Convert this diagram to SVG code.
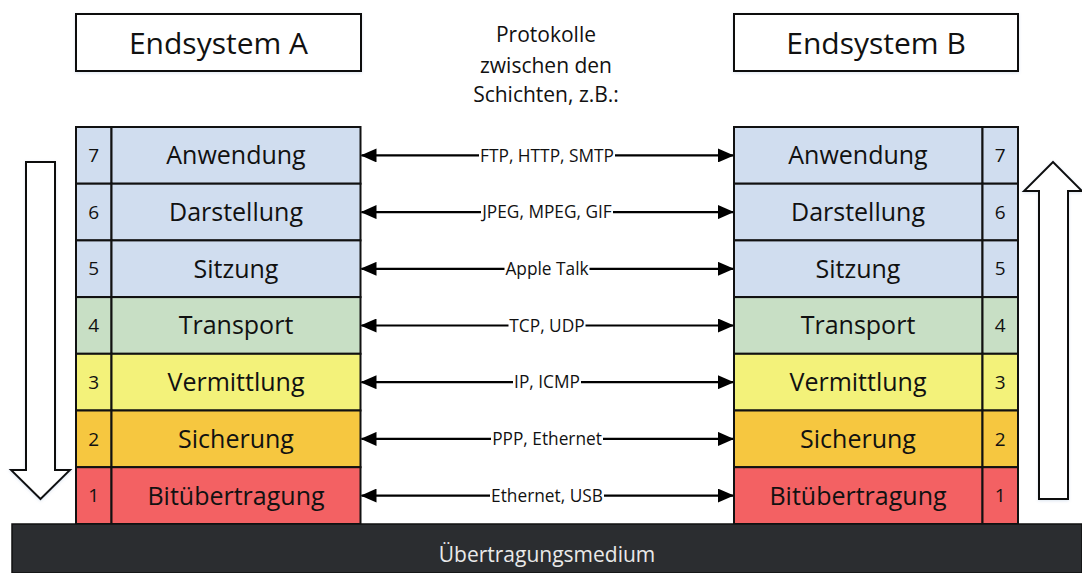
<svg xmlns="http://www.w3.org/2000/svg" width="1082" height="573" viewBox="0 0 1082 573">
  <defs>
    <marker id="ah" viewBox="0 0 16 14" refX="15" refY="7" markerWidth="16" markerHeight="14" markerUnits="userSpaceOnUse" orient="auto-start-reverse">
      <path d="M0,0 L16,7 L0,14 Z" fill="#000"/>
    </marker>
    <filter id="soft" x="-20%" y="-20%" width="140%" height="140%">
      <feDropShadow dx="0" dy="1" stdDeviation="1.5" flood-color="#9fb6d6" flood-opacity="0.35"/>
    </filter>
  </defs>
  <style>
    text { font-family: "Open Sans", "Liberation Sans", sans-serif; fill: #111; }
    .cell { stroke: #111; stroke-width: 2; }
    .blue { fill: #d0ddef; }
    .green { fill: #c8dfc5; }
    .yellow { fill: #f3f27a; }
    .orange { fill: #f6c740; }
    .red { fill: #f36163; }
    .name { font-size: 25px; text-anchor: middle; }
    .num { font-size: 19px; text-anchor: middle; }
    .head { font-size: 30px; text-anchor: middle; }
    .note { font-size: 21px; text-anchor: middle; }
    .proto { font-size: 17.3px; text-anchor: middle; }
    .gap { fill: #fff; }
    .conn { stroke: #000; stroke-width: 2.2; fill: none; marker-start: url(#ah); marker-end: url(#ah); }
    .bigarrow { fill: #fff; stroke: #111; stroke-width: 2; filter: url(#soft); }
  </style>

  <rect width="1082" height="573" fill="#fff"/>

  <!-- header boxes -->
  <g id="endsystem-a">
    <rect x="76" y="14" width="285" height="57" fill="#fff" stroke="#111" stroke-width="2" filter="url(#soft)"/>
    <text class="head" x="218.5" y="54">Endsystem A</text>
  </g>
  <g id="endsystem-b">
    <rect x="734" y="14" width="284" height="57" fill="#fff" stroke="#111" stroke-width="2" filter="url(#soft)"/>
    <text class="head" x="876" y="54">Endsystem B</text>
  </g>
  <g id="caption">
    <text class="note" x="546" y="42">Protokolle</text>
    <text class="note" x="546" y="72.5">zwischen den</text>
    <text class="note" x="546" y="101.5">Schichten, z.B.:</text>
  </g>

  <!-- direction arrows -->
  <g id="arrow-down">
    <path class="bigarrow" d="M26,162 L55,162 L55,470 L70,470 L40.5,499 L11,470 L26,470 Z"/>
  </g>
  <g id="arrow-up">
    <path class="bigarrow" d="M1039,499 L1068,499 L1068,191 L1082,191 L1053,162 L1024,191 L1039,191 Z"/>
  </g>

  <!-- layer stack of system A -->
  <g id="stack-a">
    <g id="a7"><rect class="cell blue" x="76" y="127" width="35.5" height="56.7"/><rect class="cell blue" x="111.5" y="127" width="249" height="56.7"/><text class="num" x="93.7" y="162">7</text><text class="name" x="236" y="164.3">Anwendung</text></g>
    <g id="a6"><rect class="cell blue" x="76" y="183.7" width="35.5" height="56.7"/><rect class="cell blue" x="111.5" y="183.7" width="249" height="56.7"/><text class="num" x="93.7" y="218.7">6</text><text class="name" x="236" y="221">Darstellung</text></g>
    <g id="a5"><rect class="cell blue" x="76" y="240.4" width="35.5" height="56.7"/><rect class="cell blue" x="111.5" y="240.4" width="249" height="56.7"/><text class="num" x="93.7" y="275.4">5</text><text class="name" x="236" y="277.7">Sitzung</text></g>
    <g id="a4"><rect class="cell green" x="76" y="297.1" width="35.5" height="56.7"/><rect class="cell green" x="111.5" y="297.1" width="249" height="56.7"/><text class="num" x="93.7" y="332.1">4</text><text class="name" x="236" y="334.4">Transport</text></g>
    <g id="a3"><rect class="cell yellow" x="76" y="353.8" width="35.5" height="56.7"/><rect class="cell yellow" x="111.5" y="353.8" width="249" height="56.7"/><text class="num" x="93.7" y="388.8">3</text><text class="name" x="236" y="391.1">Vermittlung</text></g>
    <g id="a2"><rect class="cell orange" x="76" y="410.5" width="35.5" height="56.7"/><rect class="cell orange" x="111.5" y="410.5" width="249" height="56.7"/><text class="num" x="93.7" y="445.5">2</text><text class="name" x="236" y="447.8">Sicherung</text></g>
    <g id="a1"><rect class="cell red" x="76" y="467.2" width="35.5" height="56.8"/><rect class="cell red" x="111.5" y="467.2" width="249" height="56.8"/><text class="num" x="93.7" y="502.2">1</text><text class="name" x="236" y="504.5">Bitübertragung</text></g>
  </g>

  <!-- layer stack of system B -->
  <g id="stack-b">
    <g id="b7"><rect class="cell blue" x="734" y="127" width="248.5" height="56.7"/><rect class="cell blue" x="982.5" y="127" width="35.5" height="56.7"/><text class="name" x="858" y="164.3">Anwendung</text><text class="num" x="1000.3" y="162">7</text></g>
    <g id="b6"><rect class="cell blue" x="734" y="183.7" width="248.5" height="56.7"/><rect class="cell blue" x="982.5" y="183.7" width="35.5" height="56.7"/><text class="name" x="858" y="221">Darstellung</text><text class="num" x="1000.3" y="218.7">6</text></g>
    <g id="b5"><rect class="cell blue" x="734" y="240.4" width="248.5" height="56.7"/><rect class="cell blue" x="982.5" y="240.4" width="35.5" height="56.7"/><text class="name" x="858" y="277.7">Sitzung</text><text class="num" x="1000.3" y="275.4">5</text></g>
    <g id="b4"><rect class="cell green" x="734" y="297.1" width="248.5" height="56.7"/><rect class="cell green" x="982.5" y="297.1" width="35.5" height="56.7"/><text class="name" x="858" y="334.4">Transport</text><text class="num" x="1000.3" y="332.1">4</text></g>
    <g id="b3"><rect class="cell yellow" x="734" y="353.8" width="248.5" height="56.7"/><rect class="cell yellow" x="982.5" y="353.8" width="35.5" height="56.7"/><text class="name" x="858" y="391.1">Vermittlung</text><text class="num" x="1000.3" y="388.8">3</text></g>
    <g id="b2"><rect class="cell orange" x="734" y="410.5" width="248.5" height="56.7"/><rect class="cell orange" x="982.5" y="410.5" width="35.5" height="56.7"/><text class="name" x="858" y="447.8">Sicherung</text><text class="num" x="1000.3" y="445.5">2</text></g>
    <g id="b1"><rect class="cell red" x="734" y="467.2" width="248.5" height="56.8"/><rect class="cell red" x="982.5" y="467.2" width="35.5" height="56.8"/><text class="name" x="858" y="504.5">Bitübertragung</text><text class="num" x="1000.3" y="502.2">1</text></g>
  </g>

  <!-- peer protocol connectors; a white strip under each label breaks the line -->
  <g id="connectors">
    <line class="conn" x1="361.5" y1="155.4" x2="733" y2="155.4"/>
    <line class="conn" x1="361.5" y1="212.1" x2="733" y2="212.1"/>
    <line class="conn" x1="361.5" y1="268.8" x2="733" y2="268.8"/>
    <line class="conn" x1="361.5" y1="325.5" x2="733" y2="325.5"/>
    <line class="conn" x1="361.5" y1="382.2" x2="733" y2="382.2"/>
    <line class="conn" x1="361.5" y1="438.9" x2="733" y2="438.9"/>
    <line class="conn" x1="361.5" y1="495.6" x2="733" y2="495.6"/>
    <rect class="gap" x="479" y="151.4" width="136" height="8"/>
    <rect class="gap" x="481" y="208.1" width="132" height="8"/>
    <rect class="gap" x="504.5" y="264.8" width="85" height="8"/>
    <rect class="gap" x="508.5" y="321.5" width="77" height="8"/>
    <rect class="gap" x="513" y="378.2" width="68" height="8"/>
    <rect class="gap" x="491" y="434.9" width="112" height="8"/>
    <rect class="gap" x="490" y="491.6" width="114" height="8"/>
    <text class="proto" x="547" y="161.6">FTP, HTTP, SMTP</text>
    <text class="proto" x="547" y="218.3">JPEG, MPEG, GIF</text>
    <text class="proto" x="547" y="275">Apple Talk</text>
    <text class="proto" x="547" y="331.7">TCP, UDP</text>
    <text class="proto" x="547" y="388.4">IP, ICMP</text>
    <text class="proto" x="547" y="445.1">PPP, Ethernet</text>
    <text class="proto" x="547" y="501.8">Ethernet, USB</text>
  </g>

  <!-- transmission medium -->
  <g id="medium">
    <rect x="12" y="524" width="1070" height="49" fill="#2b2d30" stroke="#111" stroke-width="1.5"/>
    <text x="547" y="562" font-size="21" text-anchor="middle" style="fill:#e9e9e9">Übertragungsmedium</text>
  </g>
</svg>
